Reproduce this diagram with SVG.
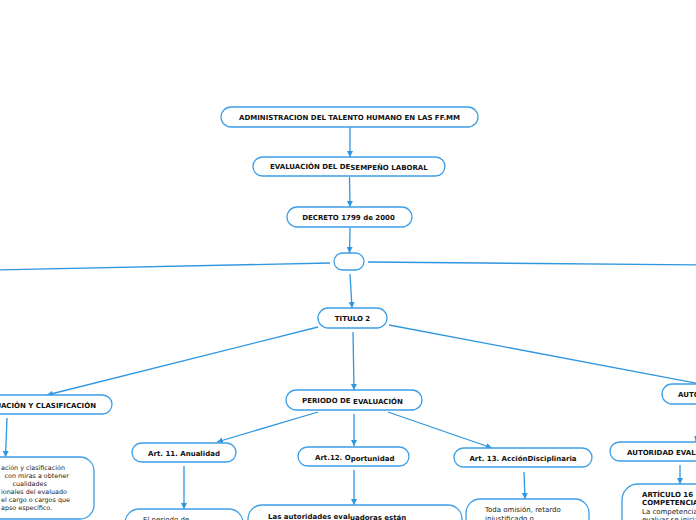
<svg xmlns="http://www.w3.org/2000/svg" width="696" height="520" viewBox="0 0 696 520">
<defs>
<marker id="ah" viewBox="0 0 10 10" refX="10" refY="5" markerWidth="6" markerHeight="7" markerUnits="userSpaceOnUse" orient="auto">
<path d="M0,0 L10,5 L0,10 z" fill="#2f97e0"/>
</marker>
<style>
.n{fill:#ffffff;stroke:#3d9fe6;stroke-width:1.3}
.h{font-family:"DejaVu Sans",Verdana,sans-serif;font-weight:bold;font-size:7px;fill:#111}
.b{font-family:"DejaVu Sans",Verdana,sans-serif;font-size:7px;fill:#222}
.s{font-family:"DejaVu Sans",Verdana,sans-serif;font-size:6.4px;fill:#222}
.c{fill:none;stroke:#2f97e0;stroke-width:1.3;marker-end:url(#ah)}
.c0{fill:none;stroke:#2f97e0;stroke-width:1.3}
</style>
</defs>
<rect width="696" height="520" fill="#ffffff"/>
<g id="connectors">
<path class="c" d="M350,127 L350,157"/>
<path class="c" d="M349.5,177 L350,207"/>
<path class="c" d="M350,228 L349.5,253"/>
<path class="c0" d="M330,263 L-10,270"/>
<path class="c0" d="M368,262 L706,265"/>
<path class="c" d="M350,274 L352,308"/>
<path class="c" d="M318,327 L47,395"/>
<path class="c" d="M353,332 L354,390"/>
<path class="c" d="M389,325 L706,385"/>
<path class="c" d="M7,418 L5.5,457"/>
<path class="c" d="M318,412 L217,442"/>
<path class="c" d="M354,414 L354,446"/>
<path class="c" d="M388,412 L492,448"/>
<path class="c" d="M702,406 L696,442"/>
<path class="c" d="M184,466 L184,509"/>
<path class="c" d="M354,470 L354,505"/>
<path class="c" d="M524,472 L525,499"/>
<path class="c" d="M680,465 L680,484"/>
</g>
<g id="n1"><rect class="n" x="221" y="107" width="257" height="20" rx="10"/><text class="h" x="349.5" y="120" text-anchor="middle">ADMINISTRACION DEL TALENTO HUMANO EN LAS FF.MM</text></g>
<g id="n2"><rect class="n" x="253" y="157" width="192" height="19" rx="9.5"/><text class="h" x="270" y="169">EVALUACIÓN DEL DE<tspan dy="1">SEMPEÑO LABORAL</tspan></text></g>
<g id="n3"><rect class="n" x="287" y="207" width="125" height="20" rx="10"/><text class="h" x="348.5" y="220" text-anchor="middle">DECRETO 1799 de 2000</text></g>
<g id="n4"><rect class="n" x="334" y="253" width="30" height="17" rx="8.5"/></g>
<g id="n5"><rect class="n" x="318" y="308" width="69" height="20" rx="10"/><text class="h" x="352.5" y="321" text-anchor="middle">TITULO 2</text></g>
<g id="n6"><rect class="n" x="-60" y="395" width="172" height="19" rx="9.5"/><text class="h" x="96" y="407.5" text-anchor="end">EVALUACIÓN Y CLASIFICACIÓN</text></g>
<g id="n7"><rect class="n" x="286" y="390" width="136" height="20" rx="10"/><text class="h" x="302" y="402.5">PERIODO DE <tspan dy="1.3">EVALUACIÓN</tspan></text></g>
<g id="n8"><rect class="n" x="662" y="384" width="90" height="20" rx="10"/><text class="h" x="678" y="397">AUTORIDADES</text></g>
<g id="n9"><rect class="n" x="132" y="443" width="104" height="19" rx="9.5"/><text class="h" x="184" y="455.5" text-anchor="middle">Art. 11. Anualidad</text></g>
<g id="n10"><rect class="n" x="298" y="447" width="111" height="19" rx="9.5"/><text class="h" x="315" y="459.5">Art.12. O<tspan dy="1">portunidad</tspan></text></g>
<g id="n11"><rect class="n" x="454" y="448" width="138" height="19" rx="9.5"/><text class="h" x="523" y="460.5" text-anchor="middle">Art. 13. AcciónDisciplinaria</text></g>
<g id="n12"><rect class="n" x="610" y="442" width="130" height="19" rx="9.5"/><text class="h" x="627" y="454.5">AUTORIDAD EVALUADORA</text></g>
<g id="n13"><rect class="n" x="-50" y="457" width="144" height="62" rx="14"/>
<text class="s" x="1" y="469.5">ación y clasificación</text>
<text class="s" x="4.5" y="477.5">con miras a obtener</text>
<text class="s" x="12.5" y="486">cualidades</text>
<text class="s" x="1" y="494">ionales del evaluado</text>
<text class="s" x="1" y="502">el cargo o cargos que</text>
<text class="s" x="1" y="510.3">apso específico.</text></g>
<g id="n14"><rect class="n" x="125" y="509" width="118" height="30" rx="14"/><text class="b" x="143" y="521.5">El periodo de</text></g>
<g id="n15"><rect class="n" x="248" y="505" width="214" height="30" rx="14"/><text class="h" x="268" y="518.5">Las autoridades eval<tspan dy="1">uadoras están</tspan></text></g>
<g id="n16"><rect class="n" x="466" y="499" width="123" height="40" rx="14"/><text class="b" x="485" y="511.5">Toda omisión, retardo</text><text class="b" x="485" y="520.5">injustificado o</text></g>
<g id="n17"><rect class="n" x="622" y="484" width="100" height="50" rx="16"/><text class="h" x="642" y="496.5">ARTÍCULO 16</text><text class="h" x="642" y="505">COMPETENCIA</text><text class="b" x="642" y="513.5">La competencia</text><text class="b" x="642" y="522">evaluar se inicia</text></g>
</svg>
